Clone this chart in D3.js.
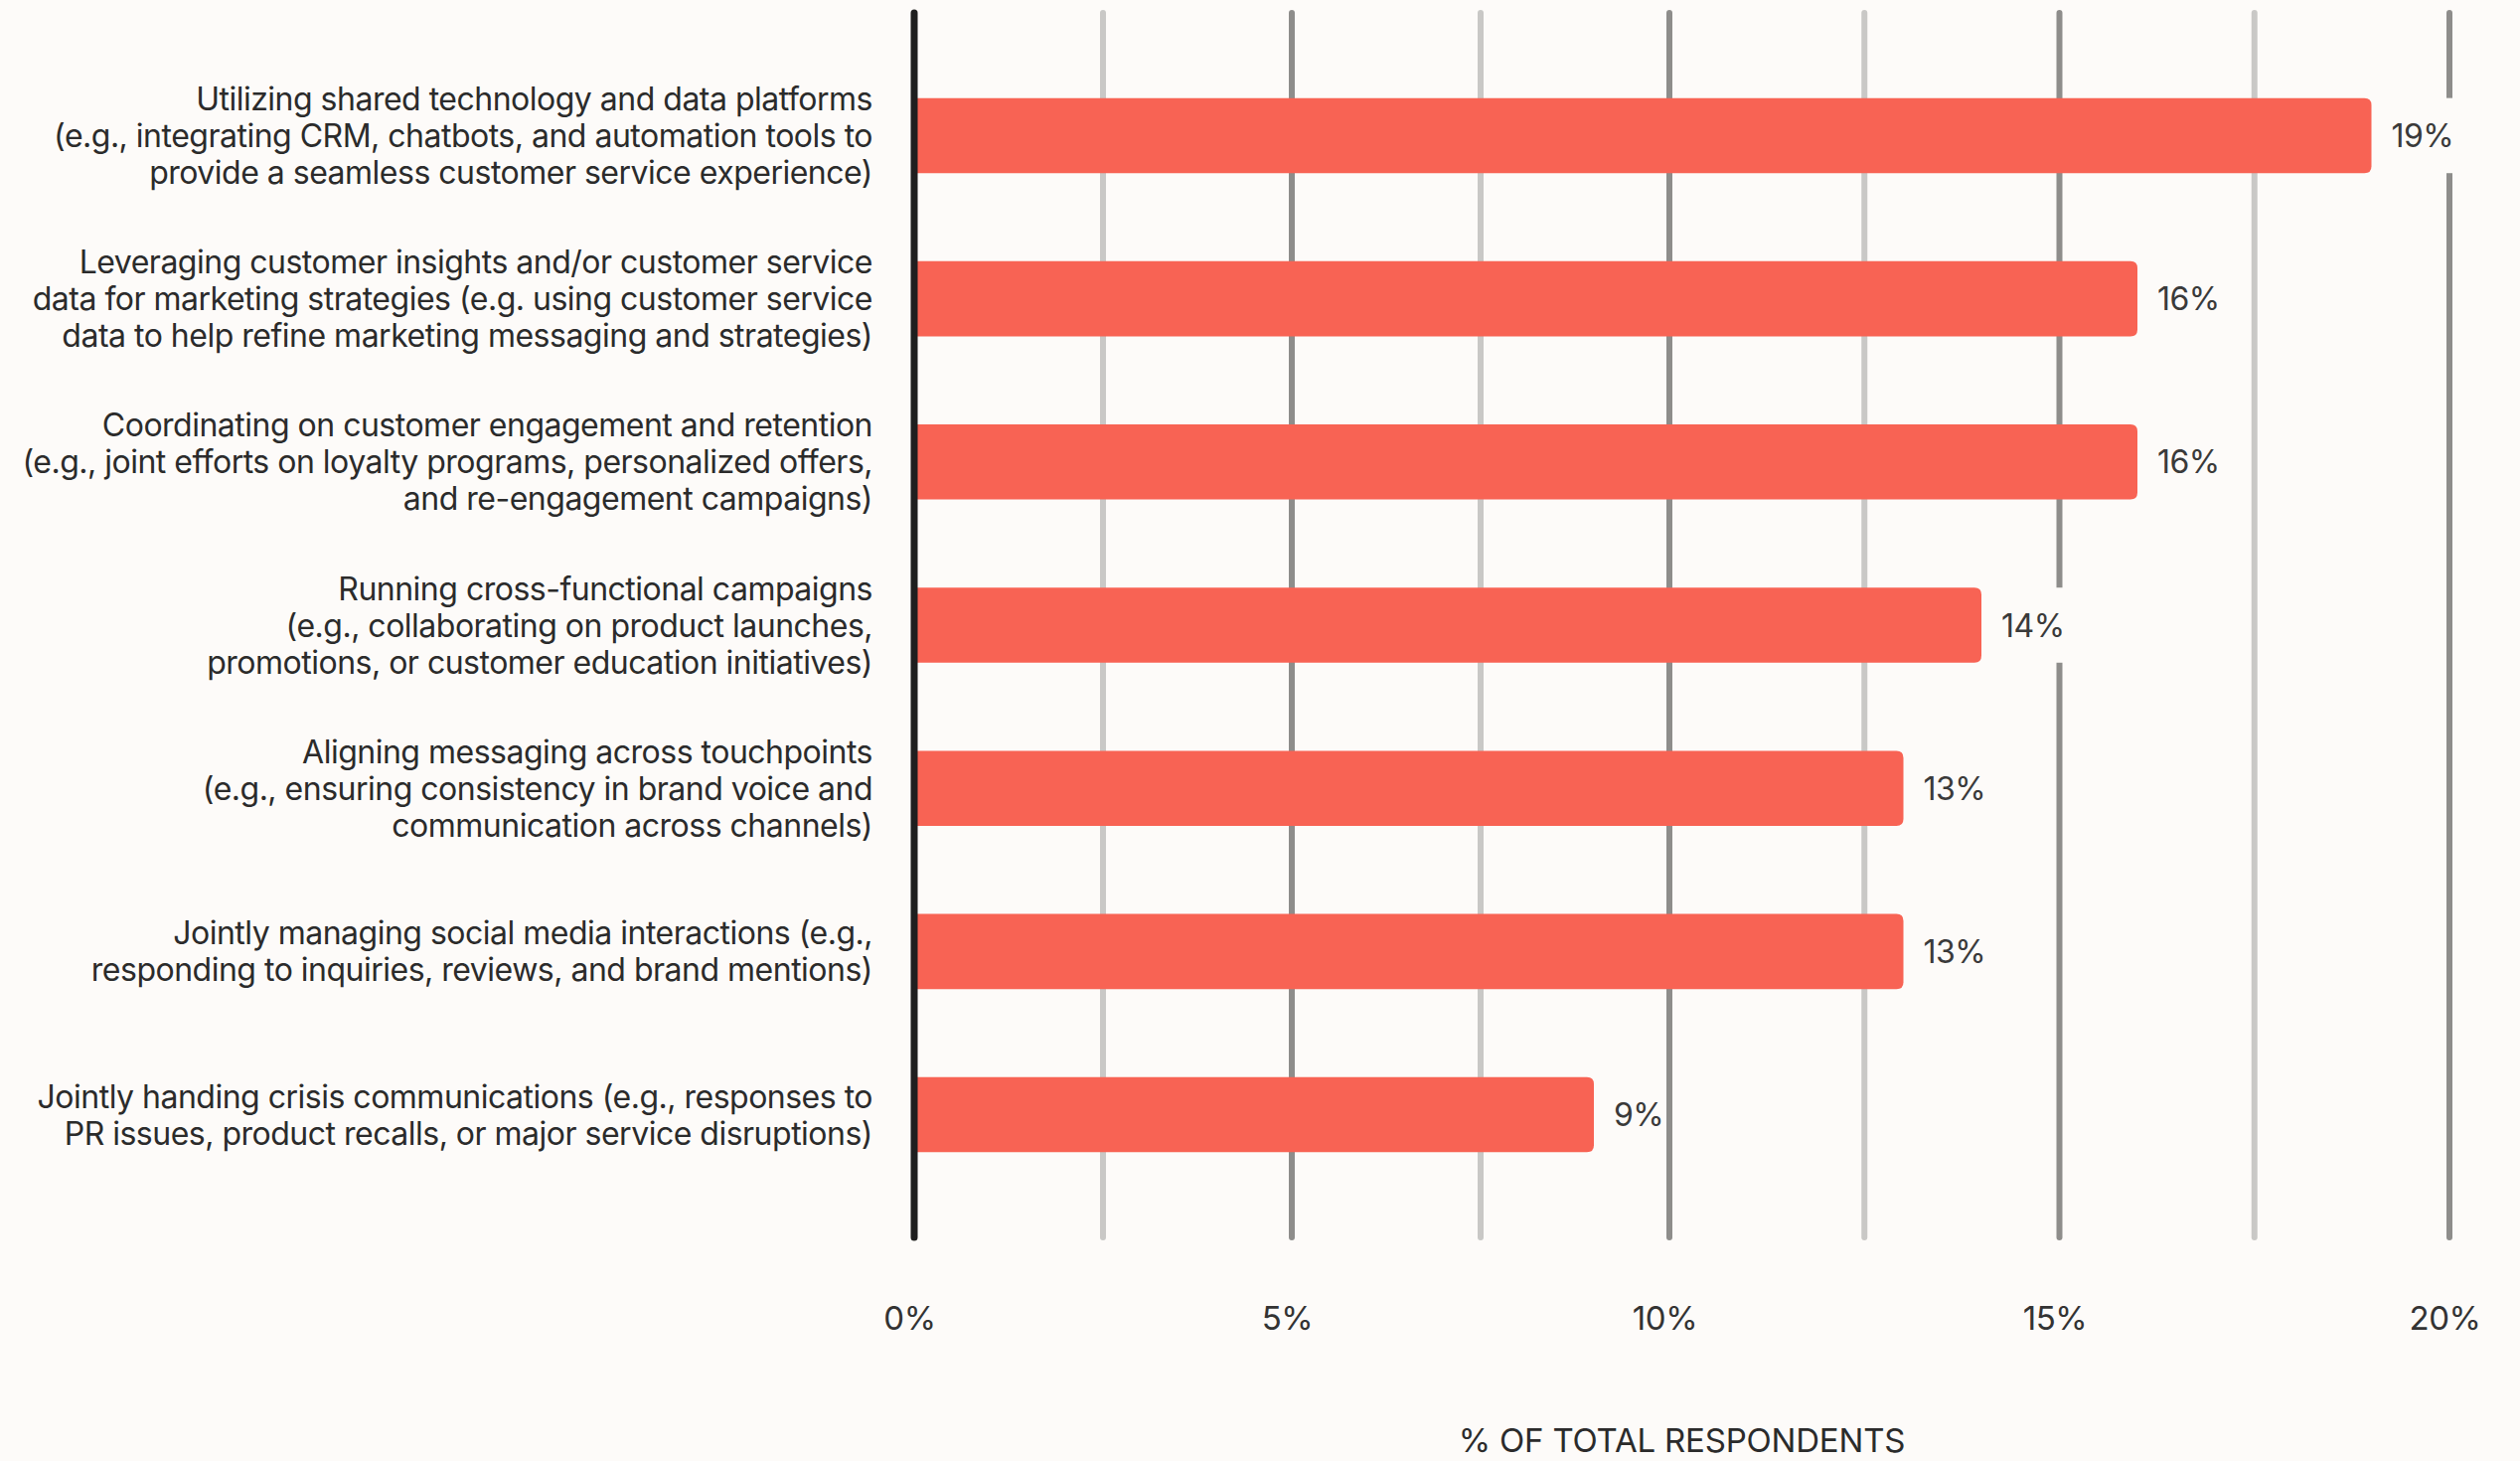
<!DOCTYPE html>
<html>
<head>
<meta charset="utf-8">
<script src="https://cdn.jsdelivr.net/npm/d3@7"></script>
<style>
  html, body { margin: 0; padding: 0; background: #fdfbf9; }
  svg { display: block; }
  text { font-family: Inter, "Noto Sans", sans-serif; }
</style>
</head>
<body>
<svg id="chart" width="2536" height="1470"></svg>
<script>
// Category labels, one array entry per wrapped line
const categories = [
  ["Utilizing shared technology and data platforms",
   "(e.g., integrating CRM, chatbots, and automation tools to",
   "provide a seamless customer service experience)"],
  ["Leveraging customer insights and/or customer service",
   "data for marketing strategies (e.g. using customer service",
   "data to help refine marketing messaging and strategies)"],
  ["Coordinating on customer engagement and retention",
   "(e.g., joint efforts on loyalty programs, personalized offers,",
   "and re-engagement campaigns)"],
  ["Running cross-functional campaigns",
   "(e.g., collaborating on product launches,",
   "promotions, or customer education initiatives)"],
  ["Aligning messaging across touchpoints",
   "(e.g., ensuring consistency in brand voice and",
   "communication across channels)"],
  ["Jointly managing social media interactions (e.g.,",
   "responding to inquiries, reviews, and brand mentions)"],
  ["Jointly handing crisis communications (e.g., responses to",
   "PR issues, product recalls, or major service disruptions)"]
];
const values = [19, 16, 16, 14, 13, 13, 9];
const majorTicks = [0, 5, 10, 15, 20];
const minorTicks = [2.5, 7.5, 12.5, 17.5];
const axisTitle = "% OF TOTAL RESPONDENTS";

const svg = d3.select("#chart");
const bg = "#fdfbf9";
const barColor = "#f86354";
const textColor = "#2b2b2b";
const fontSize = 32;

// Horizontal scale: the two halves of the axis are laid out slightly differently
const x = d3.scaleLinear().domain([0, 10, 20]).range([920, 1680, 2465]);
const y = d3.scaleBand()
  .domain(d3.range(categories.length))
  .range([10, 1248])
  .paddingInner(0.54)
  .paddingOuter(0.54);

const gridTop = 13, gridBottom = 1245;

// Vertical gridlines: light at half steps, darker at whole 5% steps
svg.append("g").selectAll("line").data(minorTicks).join("line")
  .attr("x1", d => x(d)).attr("x2", d => x(d))
  .attr("y1", gridTop).attr("y2", gridBottom)
  .attr("stroke", "#c9c8c6").attr("stroke-width", 6).attr("stroke-linecap", "round");

svg.append("g").selectAll("line").data(majorTicks.filter(d => d > 0)).join("line")
  .attr("x1", d => x(d)).attr("x2", d => x(d))
  .attr("y1", gridTop).attr("y2", gridBottom)
  .attr("stroke", "#8e8d8b").attr("stroke-width", 6).attr("stroke-linecap", "round");

// Bars with rounded right ends
const bh = y.bandwidth();
const r = 7;
svg.append("g").selectAll("path").data(values).join("path")
  .attr("fill", barColor)
  .attr("d", (d, i) => {
    const x0 = x(0), x1 = x(d), y0 = y(i), y1 = y(i) + bh;
    return `M${x0},${y0}H${x1 - r}Q${x1},${y0} ${x1},${y0 + r}V${y1 - r}Q${x1},${y1} ${x1 - r},${y1}H${x0}Z`;
  });

// Zero baseline
svg.append("line")
  .attr("x1", x(0)).attr("x2", x(0))
  .attr("y1", gridTop).attr("y2", gridBottom)
  .attr("stroke", "#1f1f1f").attr("stroke-width", 7).attr("stroke-linecap", "round");

// Value labels with a tight knock-out backing so gridlines stop behind them
const vl = svg.append("g").selectAll("g").data(values).join("g")
  .attr("transform", (d, i) => `translate(${x(d) + 20},${y(i) + bh / 2})`);
vl.append("rect").attr("class", "knock");
vl.append("text")
  .attr("dominant-baseline", "central")
  .attr("font-size", fontSize)
  .attr("letter-spacing", -0.5)
  .attr("fill", "#3a3a3a")
  .text(d => d + "%");
vl.each(function () {
  const g = d3.select(this);
  const w = g.select("text").node().getComputedTextLength();
  g.select("rect")
    .attr("x", -3).attr("y", -bh / 2)
    .attr("width", w + 3).attr("height", bh)
    .attr("fill", bg);
});

// Category labels, right-aligned, vertically centred on each bar
const lineH = 37;
const cl = svg.append("g").selectAll("text").data(categories).join("text")
  .attr("text-anchor", "end")
  .attr("font-size", fontSize)
  .attr("letter-spacing", -0.5)
  .attr("fill", textColor)
  .attr("transform", (d, i) => `translate(878,${y(i) + bh / 2})`);
cl.selectAll("tspan").data(d => d.map((t, k) => ({ t, k, n: d.length }))).join("tspan")
  .attr("x", 0)
  .attr("y", d => (d.k - (d.n - 1) / 2) * lineH)
  .attr("dominant-baseline", "central")
  .text(d => d.t);

// Bottom axis tick labels
const axis = d3.axisBottom(x)
  .tickValues(majorTicks)
  .tickSize(0)
  .tickPadding(0)
  .tickFormat(d => d + "%");
const ax = svg.append("g").attr("transform", "translate(-5,1315)").call(axis);
ax.select(".domain").remove();
ax.selectAll("text")
  .attr("font-size", 33)
  .attr("letter-spacing", -0.4)
  .attr("fill", "#333")
  .attr("font-family", "Inter, 'Noto Sans', sans-serif");

// Axis title
svg.append("text")
  .attr("x", (x(0) + x(20)) / 2)
  .attr("y", 1461)
  .attr("text-anchor", "middle")
  .attr("font-size", 33)
  .attr("letter-spacing", -0.2)
  .attr("fill", "#2b2b2b")
  .text(axisTitle);
</script>
</body>
</html>
